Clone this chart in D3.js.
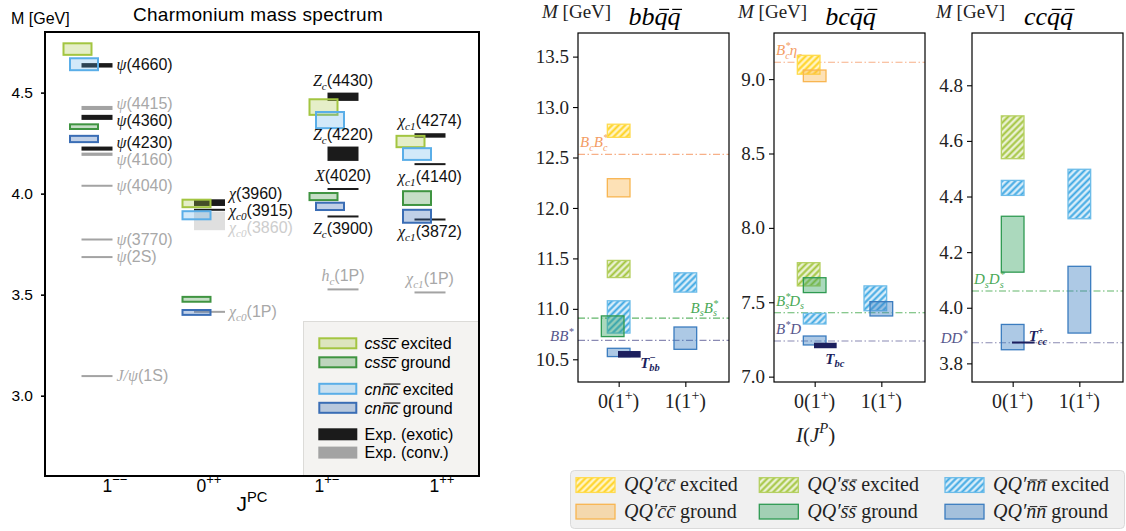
<!DOCTYPE html>
<html>
<head>
<meta charset="utf-8">
<title>Charmonium and doubly-heavy tetraquark spectra</title>
<script src="https://cdn.jsdelivr.net/npm/d3@7"></script>
<style>
  html, body { margin: 0; padding: 0; background: #fff; }
  svg { display: block; }
</style>
</head>
<body>
<svg id="figure" width="1126" height="531"></svg>
<script>
// ================= Left figure: charmonium mass spectrum =================
const jpcOrder = ["1--", "0++", "1+-", "1++"];
const jpcLabels = [["1", "−−"], ["0", "++"], ["1", "+−"], ["1", "++"]];
const charmoniumMassTicks = [3.0, 3.5, 4.0, 4.5];

// Observed states: symbol, subscript, tag, J^PC column, class, mass interval [GeV], label side
const observedStates = [
  { sym: "ψ", sub: "", tag: "(4660)", jpc: "1--", kind: "exotic", lo: 4.624, hi: 4.646, side: "right" },
  { sym: "ψ", sub: "", tag: "(4415)", jpc: "1--", kind: "conv", lo: 4.414, hi: 4.434, side: "right" },
  { sym: "ψ", sub: "", tag: "(4360)", jpc: "1--", kind: "exotic", lo: 4.365, hi: 4.390, side: "right" },
  { sym: "ψ", sub: "", tag: "(4230)", jpc: "1--", kind: "exotic", lo: 4.213, hi: 4.233, side: "right" },
  { sym: "ψ", sub: "", tag: "(4160)", jpc: "1--", kind: "conv", lo: 4.187, hi: 4.203, side: "right" },
  { sym: "ψ", sub: "", tag: "(4040)", jpc: "1--", kind: "conv", lo: 4.039, hi: 4.039, side: "right" },
  { sym: "ψ", sub: "", tag: "(3770)", jpc: "1--", kind: "conv", lo: 3.773, hi: 3.773, side: "right" },
  { sym: "ψ", sub: "", tag: "(2S)", jpc: "1--", kind: "conv", lo: 3.686, hi: 3.686, side: "right" },
  { sym: "J/ψ", sub: "", tag: "(1S)", jpc: "1--", kind: "conv", lo: 3.097, hi: 3.097, side: "right" },
  { sym: "χ", sub: "", tag: "(3960)", jpc: "0++", kind: "exotic", lo: 3.939, hi: 3.972, side: "right" },
  { sym: "χ", sub: "c0", tag: "(3915)", jpc: "0++", kind: "exotic", lo: 3.920, hi: 3.920, side: "right" },
  { sym: "χ", sub: "c0", tag: "(3860)", jpc: "0++", kind: "tentative", lo: 3.819, hi: 3.911, side: "right" },
  { sym: "χ", sub: "c0", tag: "(1P)", jpc: "0++", kind: "conv", lo: 3.415, hi: 3.415, side: "right" },
  { sym: "Z", sub: "c", tag: "(4430)", jpc: "1+-", kind: "exotic", lo: 4.459, hi: 4.500, side: "above" },
  { sym: "Z", sub: "c", tag: "(4220)", jpc: "1+-", kind: "exotic", lo: 4.162, hi: 4.233, side: "above" },
  { sym: "X", sub: "", tag: "(4020)", jpc: "1+-", kind: "exotic", lo: 4.023, hi: 4.023, side: "above" },
  { sym: "Z", sub: "c", tag: "(3900)", jpc: "1+-", kind: "exotic", lo: 3.887, hi: 3.887, side: "below" },
  { sym: "h", sub: "c", tag: "(1P)", jpc: "1+-", kind: "conv", lo: 3.526, hi: 3.526, side: "above" },
  { sym: "χ", sub: "c1", tag: "(4274)", jpc: "1++", kind: "exotic", lo: 4.277, hi: 4.299, side: "above" },
  { sym: "χ", sub: "c1", tag: "(4140)", jpc: "1++", kind: "exotic", lo: 4.146, hi: 4.146, side: "below" },
  { sym: "χ", sub: "c1", tag: "(3872)", jpc: "1++", kind: "exotic", lo: 3.872, hi: 3.872, side: "below" },
  { sym: "χ", sub: "c1", tag: "(1P)", jpc: "1++", kind: "conv", lo: 3.511, hi: 3.511, side: "above" }
];

// Tetraquark predictions for cs s̄c̄ and cn n̄c̄ [GeV]; "dodge" sets a box aside from its neighbour
const charmoniumTetraquarks = [
  { jpc: "1--", content: "cssc", level: "excited", lo: 4.682, hi: 4.749, dodge: true },
  { jpc: "1--", content: "cnnc", level: "excited", lo: 4.606, hi: 4.675 },
  { jpc: "1--", content: "cssc", level: "ground", lo: 4.315, hi: 4.348 },
  { jpc: "1--", content: "cnnc", level: "ground", lo: 4.250, hi: 4.291 },
  { jpc: "0++", content: "cssc", level: "excited", lo: 3.928, hi: 3.975 },
  { jpc: "0++", content: "cnnc", level: "excited", lo: 3.868, hi: 3.918 },
  { jpc: "0++", content: "cssc", level: "ground", lo: 3.460, hi: 3.494 },
  { jpc: "0++", content: "cnnc", level: "ground", lo: 3.395, hi: 3.429 },
  { jpc: "1+-", content: "cssc", level: "excited", lo: 4.385, hi: 4.472, dodge: true },
  { jpc: "1+-", content: "cnnc", level: "excited", lo: 4.319, hi: 4.409 },
  { jpc: "1+-", content: "cssc", level: "ground", lo: 3.963, hi: 4.008, dodge: true },
  { jpc: "1+-", content: "cnnc", level: "ground", lo: 3.914, hi: 3.960 },
  { jpc: "1++", content: "cssc", level: "excited", lo: 4.225, hi: 4.291, dodge: true },
  { jpc: "1++", content: "cnnc", level: "excited", lo: 4.162, hi: 4.230 },
  { jpc: "1++", content: "cssc", level: "ground", lo: 3.939, hi: 4.017 },
  { jpc: "1++", content: "cnnc", level: "ground", lo: 3.851, hi: 3.925 }
];

const charmoniumLegend = [
  { type: "box", content: "cssc", level: "excited", text: " excited" },
  { type: "box", content: "cssc", level: "ground", text: " ground" },
  { type: "box", content: "cnnc", level: "excited", text: " excited" },
  { type: "box", content: "cnnc", level: "ground", text: " ground" },
  { type: "exp", kind: "exotic", text: "Exp. (exotic)" },
  { type: "exp", kind: "conv", text: "Exp. (conv.)" }
];

// ================= Right figure: doubly-heavy tetraquarks QQ′q̄q̄ =================
const isospinValues = [0, 1];
const isospinLabels = [["0(1", "+", ")"], ["1(1", "+", ")"]];
const bbTicks = [10.5, 11.0, 11.5, 12.0, 12.5, 13.0, 13.5];
const bcTicks = [7.0, 7.5, 8.0, 8.5, 9.0];
const ccTicks = [3.8, 4.0, 4.2, 4.4, 4.6, 4.8];

const bbStates = [
  { I: 0, q: "cc", level: "excited", lo: 12.70, hi: 12.83 },
  { I: 0, q: "cc", level: "ground", lo: 12.11, hi: 12.29 },
  { I: 0, q: "ss", level: "excited", lo: 11.31, hi: 11.48 },
  { I: 0, q: "nn", level: "excited", lo: 10.76, hi: 11.08 },
  { I: 0, q: "ss", level: "ground", lo: 10.725, hi: 10.93, dodge: true },
  { I: 0, q: "nn", level: "ground", lo: 10.527, hi: 10.609 },
  { I: 1, q: "nn", level: "excited", lo: 11.166, hi: 11.357 },
  { I: 1, q: "nn", level: "ground", lo: 10.599, hi: 10.82 }
];
const bcStates = [
  { I: 0, q: "cc", level: "excited", lo: 9.033, hi: 9.16, dodge: true },
  { I: 0, q: "cc", level: "ground", lo: 8.983, hi: 9.061 },
  { I: 0, q: "ss", level: "excited", lo: 7.61, hi: 7.766, dodge: true },
  { I: 0, q: "ss", level: "ground", lo: 7.565, hi: 7.665 },
  { I: 0, q: "nn", level: "excited", lo: 7.354, hi: 7.426 },
  { I: 0, q: "nn", level: "ground", lo: 7.213, hi: 7.273 },
  { I: 1, q: "nn", level: "excited", lo: 7.443, hi: 7.61, dodge: true },
  { I: 1, q: "nn", level: "ground", lo: 7.408, hi: 7.504 }
];
const ccStates = [
  { I: 0, q: "ss", level: "excited", lo: 4.536, hi: 4.690 },
  { I: 0, q: "nn", level: "excited", lo: 4.404, hi: 4.458 },
  { I: 0, q: "ss", level: "ground", lo: 4.128, hi: 4.329 },
  { I: 0, q: "nn", level: "ground", lo: 3.849, hi: 3.940 },
  { I: 1, q: "nn", level: "excited", lo: 4.32, hi: 4.498 },
  { I: 1, q: "nn", level: "ground", lo: 3.909, hi: 4.149 }
];

// Two-meson thresholds [GeV]
const bbThresholds = [
  { mass: 12.531, q: "cc", place: "inLeft", label: [{ t: "B" }, { t: "c", r: "sub" }, { t: "B" }, { t: "*", r: "sup" }, { t: "c", r: "sub" }] },
  { mass: 10.908, q: "ss", place: "inRight", label: [{ t: "B" }, { t: "s", r: "sub" }, { t: "B" }, { t: "*", r: "sup" }, { t: "s", r: "sub" }] },
  { mass: 10.688, q: "nn", place: "outLeft", label: [{ t: "BB" }, { t: "*", r: "sup" }] }
];
const bcThresholds = [
  { mass: 9.113, q: "cc", place: "inLeft", label: [{ t: "B" }, { t: "*", r: "sup" }, { t: "c", r: "sub" }, { t: "η" }, { t: "c", r: "sub" }] },
  { mass: 7.43, q: "ss", place: "inLeft", label: [{ t: "B" }, { t: "*", r: "sup" }, { t: "s", r: "sub" }, { t: "D" }, { t: "s", r: "sub" }] },
  { mass: 7.24, q: "nn", place: "inLeft", label: [{ t: "B" }, { t: "*", r: "sup" }, { t: "D" }] }
];
const ccThresholds = [
  { mass: 4.06, q: "ss", place: "inLeft", label: [{ t: "D" }, { t: "s", r: "sub" }, { t: "D" }, { t: "*", r: "sup" }, { t: "s", r: "sub" }] },
  { mass: 3.874, q: "nn", place: "outLeft", label: [{ t: "DD" }, { t: "*", r: "sup" }] }
];

// Observed / lattice doubly-heavy states [GeV]
const bbExotic = [{ I: 0, lo: 10.517, hi: 10.582, place: "lowerRight", label: [{ t: "T" }, { t: "bb", r: "sub" }, { t: "−", r: "sup" }] }];
const bcExotic = [{ I: 0, lo: 7.191, hi: 7.228, place: "below", label: [{ t: "T" }, { t: "bc", r: "sub" }] }];
const ccExotic = [{ I: 0, lo: 3.875, hi: 3.875, place: "upperRight", label: [{ t: "T" }, { t: "cc", r: "sub" }, { t: "+", r: "sup" }] }];

const quarkLegend = [
  { q: "cc", level: "excited" }, { q: "cc", level: "ground" },
  { q: "ss", level: "excited" }, { q: "ss", level: "ground" },
  { q: "nn", level: "excited" }, { q: "nn", level: "ground" }
];

// ================= drawing =================
const SANS = "'Liberation Sans', Arial, Helvetica, sans-serif";
const SERIF = "'Liberation Serif', 'Times New Roman', serif";
const svg = d3.select("#figure");
const defs = svg.append("defs");

// Text made of runs (italic / sub / sup / overlined)
function richText(parent, segs, o) {
  const size = o.size;
  const small = o.small || 0.7;
  const text = parent.append("text")
    .attr("x", o.x).attr("y", o.y)
    .attr("text-anchor", o.anchor || "start")
    .attr("fill", o.color || "#000")
    .attr("font-size", size);
  let shift = 0, idx = 0, prevRole = "", prevNode = null;
  const bars = [];
  segs.forEach(s => {
    const role = s.r || "";
    const target = role === "sub" ? size * 0.25 : role === "sup" ? -size * (o.supRise || 0.4) : 0;
    const fam = s.f === "sans" ? SANS : s.f === "serif" ? SERIF : (o.family || SERIF);
    const italic = s.i !== undefined ? s.i : !!o.italic;
    const ts = text.append("tspan")
      .attr("font-family", fam)
      .attr("font-style", italic ? "italic" : "normal")
      .attr("font-weight", o.bold ? "bold" : "normal")
      .attr("font-size", role ? size * small : size)
      .attr("dy", (target - shift).toFixed(2))
      .text(s.t);
    if (role && prevRole && role !== prevRole && prevNode) {
      ts.attr("dx", (-prevNode.getComputedTextLength()).toFixed(2));
    }
    shift = target;
    if (s.b) bars.push({ a: idx, b: idx + s.t.length, mode: s.b, italic });
    idx += s.t.length;
    prevRole = role;
    prevNode = ts.node();
  });
  const node = text.node();
  bars.forEach(bar => {
    const ranges = bar.mode === "each" ? d3.range(bar.a, bar.b).map(i => [i, i + 1]) : [[bar.a, bar.b]];
    ranges.forEach(([p, q]) => {
      const s0 = node.getStartPositionOfChar(p);
      const e0 = node.getEndPositionOfChar(q - 1);
      const rise = size * (o.barRise || 0.6);
      const slant = bar.italic ? rise * 0.2 : 0;
      const inset = bar.mode === "each" ? size * 0.06 : 0;
      parent.append("line")
        .attr("x1", s0.x + slant + inset).attr("x2", e0.x + slant - inset)
        .attr("y1", s0.y - rise).attr("y2", s0.y - rise)
        .attr("stroke", o.color || "#000").attr("stroke-width", o.barWidth || 1);
    });
  });
  return text;
}

// Label de-overlap along a column
function dodge(items, gap) {
  const sorted = items.slice().sort((a, b) => a.target - b.target);
  let clusters = sorted.map(d => ({ items: [d], center: d.target }));
  let merged = true;
  while (merged) {
    merged = false;
    for (let i = 1; i < clusters.length; i++) {
      const a = clusters[i - 1], b = clusters[i];
      const aEnd = a.center + (a.items.length - 1) * gap / 2;
      const bStart = b.center - (b.items.length - 1) * gap / 2;
      if (bStart - aEnd < gap) {
        const all = a.items.concat(b.items);
        clusters.splice(i - 1, 2, { items: all, center: d3.mean(all, d => d.target) });
        merged = true;
        break;
      }
    }
  }
  clusters.forEach(c => c.items.forEach((d, k) => { d.pos = c.center + (k - (c.items.length - 1) / 2) * gap; }));
}

// ---------- left figure ----------
const L = { x0: 45, y0: 32, x1: 479, y1: 476 };
const yL = d3.scaleLinear().domain([2.6025, 4.80]).range([L.y1, L.y0]);
const xCol = d3.scaleOrdinal().domain(jpcOrder).range([84, 196.5, 330, 417]);
const xTickL = d3.scaleOrdinal().domain(jpcOrder).range([115, 209, 327, 442]);
const BOX_L = 30, LINE_L = 31, LINE_OFF = -2.5, DODGE_L = -6.5;

const tetraStyle = {
  "cssc-excited": { edge: "#a3c541", fill: "rgba(168,200,74,0.30)" },
  "cssc-ground": { edge: "#3f9441", fill: "rgba(66,146,68,0.30)" },
  "cnnc-excited": { edge: "#5aaee8", fill: "rgba(90,174,232,0.27)" },
  "cnnc-ground": { edge: "#3a6db5", fill: "rgba(58,109,181,0.32)" }
};
const expColor = { exotic: "#1b1b1b", conv: "#a3a3a3", tentative: "#d9d9d9" };
const expText = { exotic: "#111", conv: "#a8a8a8", tentative: "#cdcdcd" };

const left = svg.append("g");

left.append("text").attr("x", 11).attr("y", 24)
  .attr("font-family", SANS).attr("font-size", 16).text("M [GeV]");
left.append("text").attr("x", 258).attr("y", 21).attr("text-anchor", "middle")
  .attr("font-family", SANS).attr("font-size", 19).attr("letter-spacing", 0.3)
  .text("Charmonium mass spectrum");

// legend background (inside the frame, lower right)
left.append("rect").attr("x", 303.5).attr("y", 321.5).attr("width", L.x1 - 303.5).attr("height", L.y1 - 321.5)
  .attr("fill", "#f4f3f1").attr("stroke", "#dcdbd8").attr("stroke-width", 1);

// observed states
const expG = left.append("g");
observedStates.forEach(d => {
  const x = xCol(d.jpc) + LINE_OFF;
  let top = yL(d.hi), bot = yL(d.lo);
  if (bot - top < 2) { const c = (top + bot) / 2; top = c - 1; bot = c + 1; }
  expG.append("rect").attr("x", x).attr("y", top).attr("width", LINE_L).attr("height", bot - top)
    .attr("fill", expColor[d.kind]).attr("opacity", d.kind === "tentative" ? 0.85 : 1);
  d.cx = x + LINE_L / 2;
  d.top = top; d.bot = bot;
  d.target = (top + bot) / 2;
});

// predicted boxes drawn over the lines
left.append("g").selectAll("rect").data(charmoniumTetraquarks).join("rect")
  .attr("x", d => xCol(d.jpc) - BOX_L / 2 + (d.dodge ? DODGE_L : 0) + 1)
  .attr("y", d => yL(d.hi) + 1)
  .attr("width", BOX_L - 2)
  .attr("height", d => yL(d.lo) - yL(d.hi) - 2)
  .attr("fill", d => tetraStyle[d.content + "-" + d.level].fill)
  .attr("stroke", d => tetraStyle[d.content + "-" + d.level].edge)
  .attr("stroke-width", 2);

// state labels
const labG = left.append("g");
jpcOrder.forEach(j => {
  const side = observedStates.filter(d => d.jpc === j && d.side === "right");
  if (side.length) dodge(side, 17);
});
observedStates.forEach(d => {
  const segs = [{ t: d.sym, f: "serif", i: true }];
  if (d.sub) segs.push({ t: d.sub, f: "serif", i: true, r: "sub" });
  segs.push({ t: d.tag, f: "sans", i: false });
  let x, y, anchor;
  if (d.side === "right") { x = xCol(d.jpc) + LINE_OFF + LINE_L + 4; y = d.pos + 5; anchor = "start"; }
  else if (d.side === "above") { x = d.cx; y = d.top - 7; anchor = "middle"; }
  else { x = d.cx; y = d.bot + 16.5; anchor = "middle"; }
  richText(labG, segs, { x, y, size: 16, anchor, color: expText[d.kind] });
});

// axes
const yAxisL = left.append("g").attr("transform", `translate(${L.x0},0)`)
  .call(d3.axisLeft(yL).tickValues(charmoniumMassTicks).tickSize(4).tickPadding(8).tickFormat(d3.format(".1f")));
yAxisL.select(".domain").remove();
yAxisL.selectAll("line").attr("stroke", "#000").attr("stroke-width", 1.6);
yAxisL.selectAll("text").attr("font-family", SANS).attr("font-size", 15.5).attr("fill", "#000");

jpcOrder.forEach((j, i) => {
  richText(left, [{ t: jpcLabels[i][0] }, { t: jpcLabels[i][1], r: "sup" }],
    { x: xTickL(j), y: 491.5, size: 17.5, anchor: "middle", family: SANS, supRise: 0.42, small: 0.75 });
});
richText(left, [{ t: "J" }, { t: "PC", r: "sup" }], { x: 252, y: 511, size: 21, anchor: "middle", family: SANS, supRise: 0.45 });

// legend entries
const legRows = [343.3, 362.3, 388.8, 407.8, 434.3, 452.6];
charmoniumLegend.forEach((d, i) => {
  const cy = legRows[i];
  if (d.type === "box") {
    const st = tetraStyle[d.content + "-" + d.level];
    left.append("rect").attr("x", 319.3).attr("y", cy - 5).attr("width", 37).attr("height", 10)
      .attr("fill", st.fill).attr("stroke", st.edge).attr("stroke-width", 2);
    richText(left, [{ t: d.content.slice(0, 2), i: true }, { t: d.content.slice(2), i: true, b: "all" }, { t: d.text, i: false }],
      { x: 364.5, y: cy + 5.8, size: 16, family: SANS, barRise: 0.66, barWidth: 1.1 });
  } else {
    left.append("rect").attr("x", 318.3).attr("y", cy - 6).attr("width", 39).attr("height", 12)
      .attr("fill", expColor[d.kind]);
    left.append("text").attr("x", 364.5).attr("y", cy + 5.8).attr("font-family", SANS).attr("font-size", 16)
      .text(d.text);
  }
});

// frame
left.append("rect").attr("x", L.x0).attr("y", L.y0).attr("width", L.x1 - L.x0).attr("height", L.y1 - L.y0)
  .attr("fill", "none").attr("stroke", "#000").attr("stroke-width", 2);

// ---------- right figure ----------
const flavorStyle = {
  cc: { hatch: "#ffd21f", hatchBg: "#fff4c4", edgeExc: "#ffdb4d", fill: "rgba(251,176,64,0.38)", edge: "#f8b551", line: "#f7b088", text: "#f39c63" },
  ss: { hatch: "#a3c53e", hatchBg: "#eaf1d2", edgeExc: "#b5d062", fill: "rgba(44,160,90,0.40)", edge: "#2f9a52", line: "#62b66a", text: "#4aa957" },
  nn: { hatch: "#3ea8e3", hatchBg: "#d8edf9", edgeExc: "#6cbce9", fill: "rgba(60,126,192,0.42)", edge: "#3b7cbf", line: "#8a8ab3", text: "#56568c" }
};
Object.entries(flavorStyle).forEach(([k, f]) => {
  const p = defs.append("pattern").attr("id", "hatch-" + k)
    .attr("patternUnits", "userSpaceOnUse").attr("width", 4.6).attr("height", 4.6)
    .attr("patternTransform", "rotate(45)");
  p.append("rect").attr("width", 4.6).attr("height", 4.6).attr("fill", f.hatchBg);
  p.append("line").attr("x1", 2.3).attr("x2", 2.3).attr("y1", -1).attr("y2", 5.6)
    .attr("stroke", f.hatch).attr("stroke-width", 2);
});

const PANEL = { top: 33, bottom: 382, width: 151 };
const panels = [
  { left: 578, domain: [10.275, 13.734], ticks: bbTicks, states: bbStates, thresholds: bbThresholds, exotic: bbExotic, title: "bb" },
  { left: 774, domain: [6.964, 9.31], ticks: bcTicks, states: bcStates, thresholds: bcThresholds, exotic: bcExotic, title: "bc" },
  { left: 972, domain: [3.733, 4.988], ticks: ccTicks, states: ccStates, thresholds: ccThresholds, exotic: ccExotic, title: "cc" }
];
const xI = d3.scaleLinear().domain([-0.61, 1.655]).range([0, PANEL.width]);
const BOX_W = 0.34, DODGE_R = -0.09, T_OFF = 0.16;
const NAVY = "#1c1f5e";

panels.forEach((p, k) => {
  const g = svg.append("g").attr("transform", `translate(${p.left},0)`);
  const y = d3.scaleLinear().domain(p.domain).range([PANEL.bottom, PANEL.top]);
  const clipId = "clip-" + k;
  defs.append("clipPath").attr("id", clipId).append("rect")
    .attr("x", 0).attr("y", PANEL.top).attr("width", PANEL.width).attr("height", PANEL.bottom - PANEL.top);
  const inner = g.append("g").attr("clip-path", `url(#${clipId})`);

  // thresholds
  p.thresholds.forEach(t => {
    const st = flavorStyle[t.q];
    inner.append("line").attr("x1", 0).attr("x2", PANEL.width).attr("y1", y(t.mass)).attr("y2", y(t.mass))
      .attr("stroke", st.line).attr("stroke-width", 1.1).attr("stroke-dasharray", "7,2.5,1.5,2.5");
    let x, yy, anchor;
    if (t.place === "inLeft") { x = 2; yy = y(t.mass) - 7; anchor = "start"; }
    else if (t.place === "inRight") { x = PANEL.width - 11; yy = y(t.mass) - 5.5; anchor = "end"; }
    else { x = -4.5; yy = y(t.mass) + 0.5; anchor = "end"; }
    richText(g, t.label, { x, y: yy, size: 15, anchor, italic: true, color: st.text, small: 0.68 });
  });

  // model boxes: excited first, ground on top
  const ordered = p.states.filter(d => d.level === "excited").concat(p.states.filter(d => d.level === "ground"));
  g.append("g").selectAll("rect").data(ordered).join("rect")
    .attr("x", d => xI(d.I + (d.dodge ? DODGE_R : 0) - BOX_W / 2))
    .attr("y", d => y(d.hi))
    .attr("width", xI(BOX_W) - xI(0))
    .attr("height", d => y(d.lo) - y(d.hi))
    .attr("fill", d => d.level === "excited" ? `url(#hatch-${d.q})` : flavorStyle[d.q].fill)
    .attr("stroke", d => d.level === "excited" ? flavorStyle[d.q].edgeExc : flavorStyle[d.q].edge)
    .attr("stroke-width", 1.3);

  // doubly-heavy exotic states
  p.exotic.forEach(e => {
    const x0 = xI(e.I + T_OFF - BOX_W / 2), x1 = xI(e.I + T_OFF + BOX_W / 2);
    let top = y(e.hi), bot = y(e.lo);
    if (bot - top < 2) { const c = (top + bot) / 2; top = c - 1; bot = c + 1; }
    g.append("rect").attr("x", x0).attr("y", top).attr("width", x1 - x0).attr("height", bot - top).attr("fill", NAVY);
    let lx, ly;
    if (e.place === "lowerRight") { lx = x1 - 0.5; ly = bot + 10; }
    else if (e.place === "below") { lx = (x0 + x1) / 2; ly = bot + 15.5; }
    else { lx = x1 - 6; ly = top - 0.5; }
    richText(g, e.label, { x: lx, y: ly, size: 15, italic: true, bold: true, color: NAVY, supRise: 0.45 });
  });

  // axes
  const ya = g.append("g").call(d3.axisLeft(y).tickValues(p.ticks).tickSize(5).tickPadding(4).tickFormat(d3.format(".1f")));
  ya.select(".domain").remove();
  ya.selectAll("line").attr("stroke", "#000").attr("stroke-width", 1.1);
  ya.selectAll("text").attr("font-family", SERIF).attr("font-size", 19).attr("fill", "#222");

  const xa = g.append("g").attr("transform", `translate(0,${PANEL.bottom})`)
    .call(d3.axisBottom(xI).tickValues(isospinValues).tickSize(5).tickFormat(""));
  xa.select(".domain").remove();
  xa.selectAll("line").attr("stroke", "#000").attr("stroke-width", 1.1);
  isospinValues.forEach((v, i) => {
    const lab = isospinLabels[i];
    richText(g, [{ t: lab[0] }, { t: lab[1], r: "sup" }, { t: lab[2] }],
      { x: xI(v), y: 408, size: 20, anchor: "middle", color: "#222", supRise: 0.42 });
  });

  // frame
  g.append("rect").attr("x", 0).attr("y", PANEL.top).attr("width", PANEL.width).attr("height", PANEL.bottom - PANEL.top)
    .attr("fill", "none").attr("stroke", "#000").attr("stroke-width", 1.2);

  // axis title and panel title
  richText(g, [{ t: "M", i: true }, { t: " [GeV]", i: false }], { x: -36, y: 18, size: 19, color: "#222" });
  richText(g, [{ t: p.title }, { t: "qq", b: "each" }],
    { x: PANEL.width / 2 + 1, y: 25, size: 26, anchor: "middle", italic: true, barRise: 0.6, barWidth: 1.2 });

  if (k === 1) {
    richText(g, [{ t: "I", i: true }, { t: "(", i: false }, { t: "J", i: true }, { t: "P", r: "sup", i: true }, { t: ")", i: false }],
      { x: xI(0) + 1, y: 442, size: 21, anchor: "middle", color: "#222", supRise: 0.45 });
  }
});

// legend for the right figure
const legR = svg.append("g");
legR.append("rect").attr("x", 570.5).attr("y", 470.5).attr("width", 554).attr("height", 58).attr("rx", 4)
  .attr("fill", "#f0f0f0").attr("stroke", "#dadada").attr("stroke-width", 1);
const legCols = [576, 759.3, 945], legRowsR = [477.7, 504.3];
quarkLegend.forEach((d, i) => {
  const col = Math.floor(i / 2), row = i % 2;
  const st = flavorStyle[d.q];
  const x = legCols[col], yy = legRowsR[row];
  legR.append("rect").attr("x", x).attr("y", yy).attr("width", 39).attr("height", 14.7)
    .attr("fill", d.level === "excited" ? `url(#hatch-${d.q})` : st.fill)
    .attr("stroke", d.level === "excited" ? st.edgeExc : st.edge).attr("stroke-width", 1.3);
  richText(legR, [{ t: "QQ′", i: true }, { t: d.q, i: true, b: "each" }, { t: " " + d.level, i: false }],
    { x: x + 48, y: yy + 13.5, size: 20, color: "#222", barRise: 0.56 });
});
</script>
</body>
</html>
